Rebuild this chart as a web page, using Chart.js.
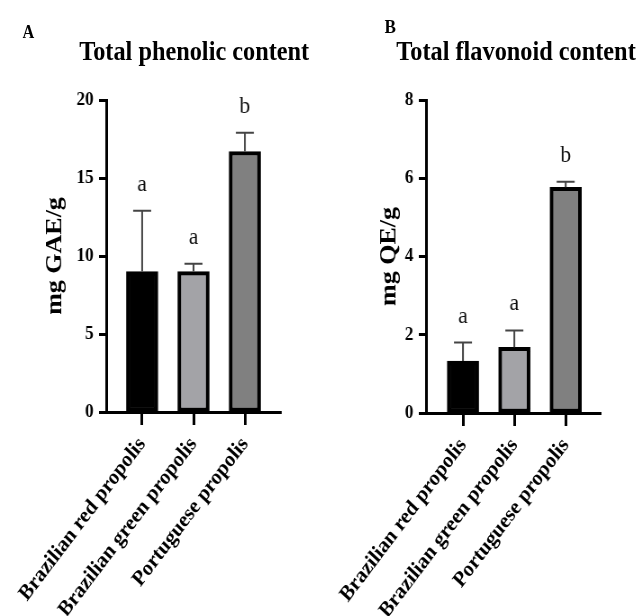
<!DOCTYPE html>
<html>
<head>
<meta charset="utf-8">
<script src="https://cdn.jsdelivr.net/npm/chart.js@4.4.1/dist/chart.umd.min.js"></script>
<style>
  html, body { margin: 0; padding: 0; background: #fff; overflow: hidden; }
  body { width: 636px; height: 616px; position: relative; }
  /* the figure looks squeezed sideways, so each panel is drawn wider and scaled */
  .panel { position: absolute; top: 0; width: 354px; height: 616px; transform: scaleX(0.9); transform-origin: 0 0; }
  .panel canvas { position: absolute; left: 0; top: 0; }
  .txt { position: absolute; font-family: "Liberation Serif", "Times New Roman", serif; font-weight: bold; line-height: 1; white-space: nowrap; color: #000; }
</style>
</head>
<body>
<div class="panel" style="left:0">
  <canvas id="chartA" width="354" height="616"></canvas>
  <div class="txt" style="left:25px;top:23px;font-size:18px">A</div>
  <div class="txt" style="left:88px;top:38px;font-size:27px">Total phenolic content</div>
</div>
<div class="panel" style="left:318px">
  <canvas id="chartB" width="354" height="616"></canvas>
  <div class="txt" style="left:74px;top:17px;font-size:19px">B</div>
  <div class="txt" style="left:87px;top:38px;font-size:27px">Total flavonoid content</div>
</div>
<script>
const categories = ['Brazilian red propolis', 'Brazilian green propolis', 'Portuguese propolis']
const barColors = ['#000000', '#a3a3a7', '#808080']

const phenolic = [9.0, 9.0, 16.7]
const phenolicSd = [3.9, 0.5, 1.2]
const phenolicLetters = ['a', 'a', 'b']
const phenolicTicks = [0, 5, 10, 15, 20]

const flavonoid = [1.33, 1.68, 5.77]
const flavonoidSd = [0.47, 0.43, 0.14]
const flavonoidLetters = ['a', 'a', 'b']
const flavonoidTicks = [0, 2, 4, 6, 8]

const SERIF = "'Liberation Serif', 'Times New Roman', serif"

// upper SD whiskers plus the significance letters above them
function errorBars(sd, letters) {
  return {
    id: 'errorBars',
    afterDatasetsDraw(chart) {
      const { ctx } = chart
      const y = chart.scales.y
      const meta = chart.getDatasetMeta(0)
      const values = chart.data.datasets[0].data
      ctx.save()
      meta.data.forEach((bar, i) => {
        const top = y.getPixelForValue(values[i].y + sd[i])
        ctx.strokeStyle = '#444'
        ctx.lineWidth = 2
        ctx.beginPath()
        ctx.moveTo(bar.x, bar.y)
        ctx.lineTo(bar.x, top)
        ctx.moveTo(bar.x - 10, top)
        ctx.lineTo(bar.x + 10, top)
        ctx.stroke()

        ctx.fillStyle = '#111'
        ctx.font = '24px ' + SERIF
        ctx.textAlign = 'center'
        ctx.textBaseline = 'alphabetic'
        ctx.fillText(letters[i], bar.x, top - 20)
      })
      ctx.restore()
    },
  }
}

function makeChart(id, cfg) {
  return new Chart(document.getElementById(id), {
    type: 'bar',
    data: {
      datasets: [{
        data: cfg.values.map((v, i) => ({ x: i, y: v })),
        backgroundColor: barColors,
        borderColor: '#000',
        borderWidth: 4,
        borderSkipped: false,
        barThickness: 35,
      }],
    },
    options: {
      responsive: false,
      animation: false,
      layout: { padding: { left: cfg.padLeft, right: cfg.padRight, top: 100, bottom: 0 } },
      plugins: { legend: { display: false }, tooltip: { enabled: false } },
      scales: {
        x: {
          type: 'linear',
          offset: false,
          min: cfg.xMin,
          max: cfg.xMax,
          afterBuildTicks: (scale) => { scale.ticks = categories.map((_, i) => ({ value: i })) },
          afterFit: (scale) => {
            scale.height = cfg.xHeight
            scale.paddingLeft = 0
            scale.paddingRight = 0
          },
          border: { display: true, color: '#000', width: 3 },
          grid: { offset: false, drawOnChartArea: false, drawTicks: true, tickLength: 13, tickColor: '#000', tickWidth: 3 },
          ticks: {
            autoSkip: false,
            minRotation: 50,
            maxRotation: 50,
            padding: 7,
            color: '#000',
            font: { family: SERIF, size: 22, weight: 'bold' },
            callback: (v) => categories[v],
          },
        },
        y: {
          min: cfg.ticks[0],
          max: cfg.ticks[cfg.ticks.length - 1],
          afterFit: (scale) => { scale.width = 80 },
          border: { display: true, color: '#000', width: 3 },
          grid: { drawOnChartArea: false, drawTicks: true, tickLength: 8, tickColor: '#000', tickWidth: 3 },
          ticks: {
            stepSize: cfg.ticks[1] - cfg.ticks[0],
            padding: 6,
            color: '#000',
            font: { family: SERIF, size: 19, weight: 'bold' },
          },
          title: {
            display: true,
            text: cfg.yTitle,
            color: '#000',
            padding: { top: cfg.titlePad, bottom: 0 },
            font: { family: SERIF, size: 26, weight: 'bold' },
          },
        },
      },
    },
    plugins: [errorBars(cfg.sd, cfg.letters)],
  })
}

makeChart('chartA', {
  values: phenolic, sd: phenolicSd, letters: phenolicLetters, ticks: phenolicTicks,
  yTitle: 'mg GAE/g', padLeft: 38, padRight: 42, xMin: -0.7, xMax: 2.7, titlePad: 8, xHeight: 204,
})
makeChart('chartB', {
  values: flavonoid, sd: flavonoidSd, letters: flavonoidLetters, ticks: flavonoidTicks,
  yTitle: 'mg QE/g', padLeft: 40, padRight: 40, xMin: -0.72, xMax: 2.68, titlePad: 24, xHeight: 203,
})
</script>
</body>
</html>
